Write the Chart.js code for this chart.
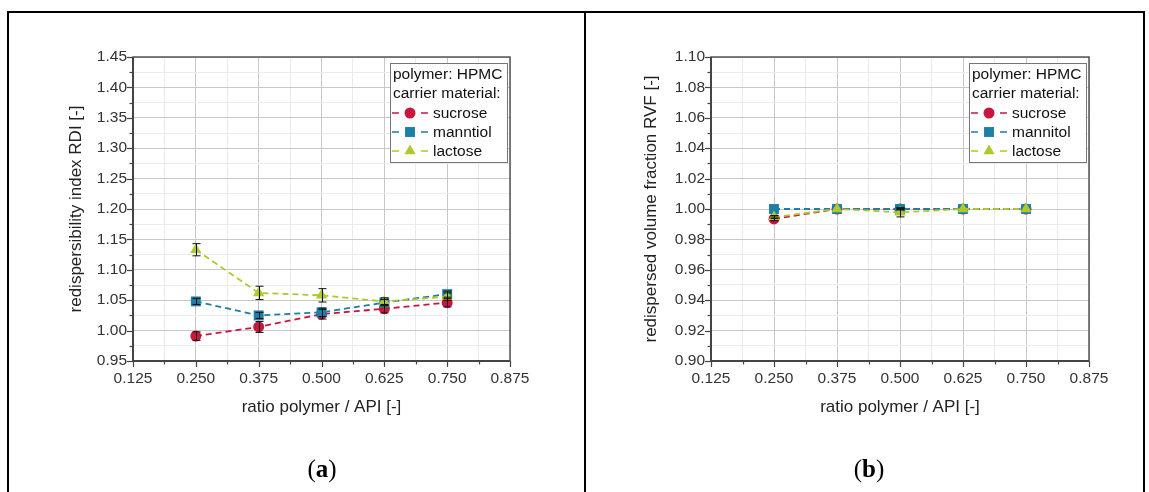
<!DOCTYPE html>
<html>
<head>
<meta charset="utf-8">
<script src="https://cdn.jsdelivr.net/npm/chart.js@4/dist/chart.umd.min.js"></script>
<style>
  body { margin: 0; background: #fff; width: 1149px; height: 492px; overflow: hidden; position: relative; }
  .frame { position: absolute; top: 11px; left: 7px; width: 1134px; height: 500px; border: 2px solid #000; border-bottom: none; }
  .divider { position: absolute; top: 11px; left: 584px; width: 2px; height: 490px; background: #000; }
  canvas { position: absolute; top: 12px; }
  #chartA { left: 8px; }
  #chartB { left: 587px; }
  .caption { position: absolute; top: 455px; font-family: "Liberation Serif", "DejaVu Serif", serif; font-size: 25px; color: #000; transform: translateX(-50%); }
</style>
</head>
<body>
<div class="frame"></div>
<div class="divider"></div>
<canvas id="chartA" width="576" height="480"></canvas>
<canvas id="chartB" width="556" height="480"></canvas>
<div class="caption" style="left:322px">(<b>a</b>)</div>
<div class="caption" style="left:869px">(<b>b</b>)</div>
<script>
// ratio polymer / API
const ratios = [0.25, 0.375, 0.5, 0.625, 0.75];

// (a) redispersibility index RDI
const sucroseRDI = [0.991, 1.006, 1.027, 1.036, 1.046];
const sucroseRDIErr = [0.007, 0.009, 0.008, 0.007, 0.007];
const mannitolRDI = [1.048, 1.025, 1.030, 1.046, 1.060];
const mannitolRDIErr = [0.005, 0.005, 0.007, 0.005, 0.005];
const lactoseRDI = [1.133, 1.062, 1.058, 1.048, 1.056];
const lactoseRDIErr = [0.010, 0.011, 0.011, 0.006, 0.006];

// (b) redispersed volume fraction RVF
const sucroseRVF = [0.9935, 1.000, 1.000, 1.000, 1.000];
const sucroseRVFErr = [0.0012, 0, 0.0005, 0, 0];
const mannitolRVF = [1.000, 1.000, 1.000, 1.000, 1.000];
const mannitolRVFErr = [0, 0, 0.0005, 0, 0];
const lactoseRVF = [0.9947, 1.000, 0.9978, 1.000, 1.000];
const lactoseRVFErr = [0.001, 0, 0.003, 0, 0];

const legendHeader = ["polymer: HPMC", "carrier material:"];

const colors = { sucrose: "#c8173f", mannitol: "#1b7fa8", lactose: "#afc82a" };

Chart.defaults.font.family = "'Liberation Sans', Arial, sans-serif";
Chart.defaults.color = "#333";

function pts(vals) {
    return ratios.map((r, i) => ({ x: r, y: vals[i] }));
}

function series(label, vals, color, style, radius, order) {
    return {
        label,
        data: pts(vals),
        order,
        borderColor: color,
        backgroundColor: color,
        borderWidth: 1.8,
        borderDash: [6, 4],
        pointStyle: style,
        pointRadius: radius,
        pointBorderWidth: 0,
        showLine: true,
        tension: 0,
    };
}

// error bars, outer frame, ticks and the inside legend
const extras = {
    id: "extras",
    afterDatasetsDraw(chart, args, opts) {
        const { ctx, scales: { x, y } } = chart;
        ctx.save();
        ctx.strokeStyle = "#111";
        ctx.lineWidth = 1;
        chart.data.datasets.forEach((ds, i) => {
            ds.data.forEach((p, j) => {
                const e = opts.errors[i][j];
                if (!e) return;
                const px = Math.round(x.getPixelForValue(p.x)) + 0.5;
                const t = y.getPixelForValue(p.y + e);
                const b = y.getPixelForValue(p.y - e);
                ctx.beginPath();
                ctx.moveTo(px, t); ctx.lineTo(px, b);
                ctx.moveTo(px - 4, t); ctx.lineTo(px + 4, t);
                ctx.moveTo(px - 4, b); ctx.lineTo(px + 4, b);
                ctx.stroke();
            });
        });
        ctx.restore();
    },
    afterDraw(chart, args, opts) {
        const { ctx, chartArea: a, scales: { x, y } } = chart;
        ctx.save();
        // tick marks
        ctx.strokeStyle = "#444";
        ctx.lineWidth = 1.2;
        x.ticks.forEach((t, i) => {
            const px = Math.round(x.getPixelForValue(t.value)) + 0.5;
            const len = i % 2 === 0 ? 6 : 3.5;
            ctx.beginPath(); ctx.moveTo(px, a.bottom); ctx.lineTo(px, a.bottom + len); ctx.stroke();
        });
        y.ticks.forEach((t, i) => {
            const py = Math.round(y.getPixelForValue(t.value)) + 0.5;
            const len = i % 2 === 0 ? 6 : 3.5;
            ctx.beginPath(); ctx.moveTo(a.left, py); ctx.lineTo(a.left - len, py); ctx.stroke();
        });
        // frame
        ctx.strokeStyle = "#555";
        ctx.lineWidth = 1.5;
        ctx.strokeRect(a.left, a.top, a.right - a.left, a.bottom - a.top);
        ctx.strokeStyle = "#444";
        ctx.lineWidth = 2;
        ctx.beginPath();
        ctx.moveTo(a.left, a.top); ctx.lineTo(a.left, a.bottom); ctx.lineTo(a.right, a.bottom);
        ctx.stroke();

        // legend box
        const bw = 117, bh = 99;
        const bx = a.right - 3 - bw, by = a.top + 6;
        ctx.fillStyle = "#fff";
        ctx.fillRect(bx, by, bw, bh);
        ctx.strokeStyle = "#777";
        ctx.lineWidth = 1;
        ctx.strokeRect(bx + 0.5, by + 0.5, bw, bh);
        ctx.font = "15.5px 'Liberation Sans', Arial, sans-serif";
        ctx.fillStyle = "#111";
        ctx.textBaseline = "middle";
        ctx.textAlign = "left";
        const rowH = 19;
        legendHeader.forEach((txt, i) => ctx.fillText(txt, bx + 3, by + 12 + i * rowH));
        chart.data.datasets.forEach((ds, i) => {
            const cy = by + 12 + (i + 2) * rowH;
            ctx.strokeStyle = ds.borderColor;
            ctx.lineWidth = 1.5;
            ctx.beginPath();
            ctx.moveTo(bx + 2, cy); ctx.lineTo(bx + 9, cy);
            ctx.moveTo(bx + 31, cy); ctx.lineTo(bx + 38, cy);
            ctx.stroke();
            ctx.fillStyle = ds.backgroundColor;
            Chart.helpers.drawPoint(ctx, {
                pointStyle: ds.pointStyle, radius: ds.pointRadius, rotation: 0, borderWidth: 0
            }, bx + 20, cy);
            ctx.fillStyle = "#111";
            ctx.fillText(ds.label, bx + 43, cy + 1);
        });
        ctx.restore();
    },
};

function makeChart(id, datasets, errors, yMin, yMax, yStep, yDigits, yTitle, pad, yWidth) {
    const gridColor = (c) => (c.index % 2 === 0 ? "#c8c8c8" : "#ebebeb");
    return new Chart(document.getElementById(id), {
        type: "scatter",
        data: { datasets },
        plugins: [extras],
        options: {
            responsive: false,
            animation: false,
            layout: { padding: pad },
            plugins: {
                legend: { display: false },
                tooltip: { enabled: false },
                extras: { errors },
            },
            scales: {
                x: {
                    type: "linear",
                    min: 0.125,
                    max: 0.875,
                    afterFit: (s) => { s.height = 61; },
                    ticks: {
                        stepSize: 0.0625,
                        autoSkip: false,
                        maxRotation: 0,
                        padding: 8,
                        font: { size: 15.5 },
                        color: "#333",
                        callback: (v, i) => (i % 2 === 0 ? v.toFixed(3) : ""),
                    },
                    grid: { color: gridColor, lineWidth: 1, drawTicks: false },
                    border: { display: false },
                    title: { display: true, text: "ratio polymer / API [-]", font: { size: 17 }, color: "#222", padding: 4 },
                },
                y: {
                    min: yMin,
                    max: yMax,
                    afterFit: (s) => { s.width = yWidth; },
                    ticks: {
                        stepSize: yStep,
                        autoSkip: false,
                        padding: 6,
                        font: { size: 15.5 },
                        color: "#333",
                        callback: (v, i) => (i % 2 === 0 ? v.toFixed(yDigits) : ""),
                    },
                    grid: { color: gridColor, lineWidth: 1, drawTicks: false },
                    border: { display: false },
                    title: { display: true, text: yTitle, font: { size: 17 }, color: "#222", padding: 4 },
                },
            },
        },
    });
}

makeChart("chartA", [
    series("sucrose", sucroseRDI, colors.sucrose, "circle", 5.5, 2),
    series("manntiol", mannitolRDI, colors.mannitol, "rect", 7, 1),
    series("lactose", lactoseRDI, colors.lactose, "triangle", 6.5, 0),
], [sucroseRDIErr, mannitolRDIErr, lactoseRDIErr],
    0.95, 1.45, 0.025, 2, "redispersibility index RDI [-]",
    { left: 54, right: 74, top: 45, bottom: 70 }, 71);

makeChart("chartB", [
    series("sucrose", sucroseRVF, colors.sucrose, "circle", 5.5, 2),
    series("mannitol", mannitolRVF, colors.mannitol, "rect", 7, 1),
    series("lactose", lactoseRVF, colors.lactose, "triangle", 6.5, 0),
], [sucroseRVFErr, mannitolRVFErr, lactoseRVFErr],
    0.90, 1.10, 0.01, 2, "redispersed volume fraction RVF [-]",
    { left: 50, right: 54, top: 45, bottom: 70 }, 74);
</script>
</body>
</html>
